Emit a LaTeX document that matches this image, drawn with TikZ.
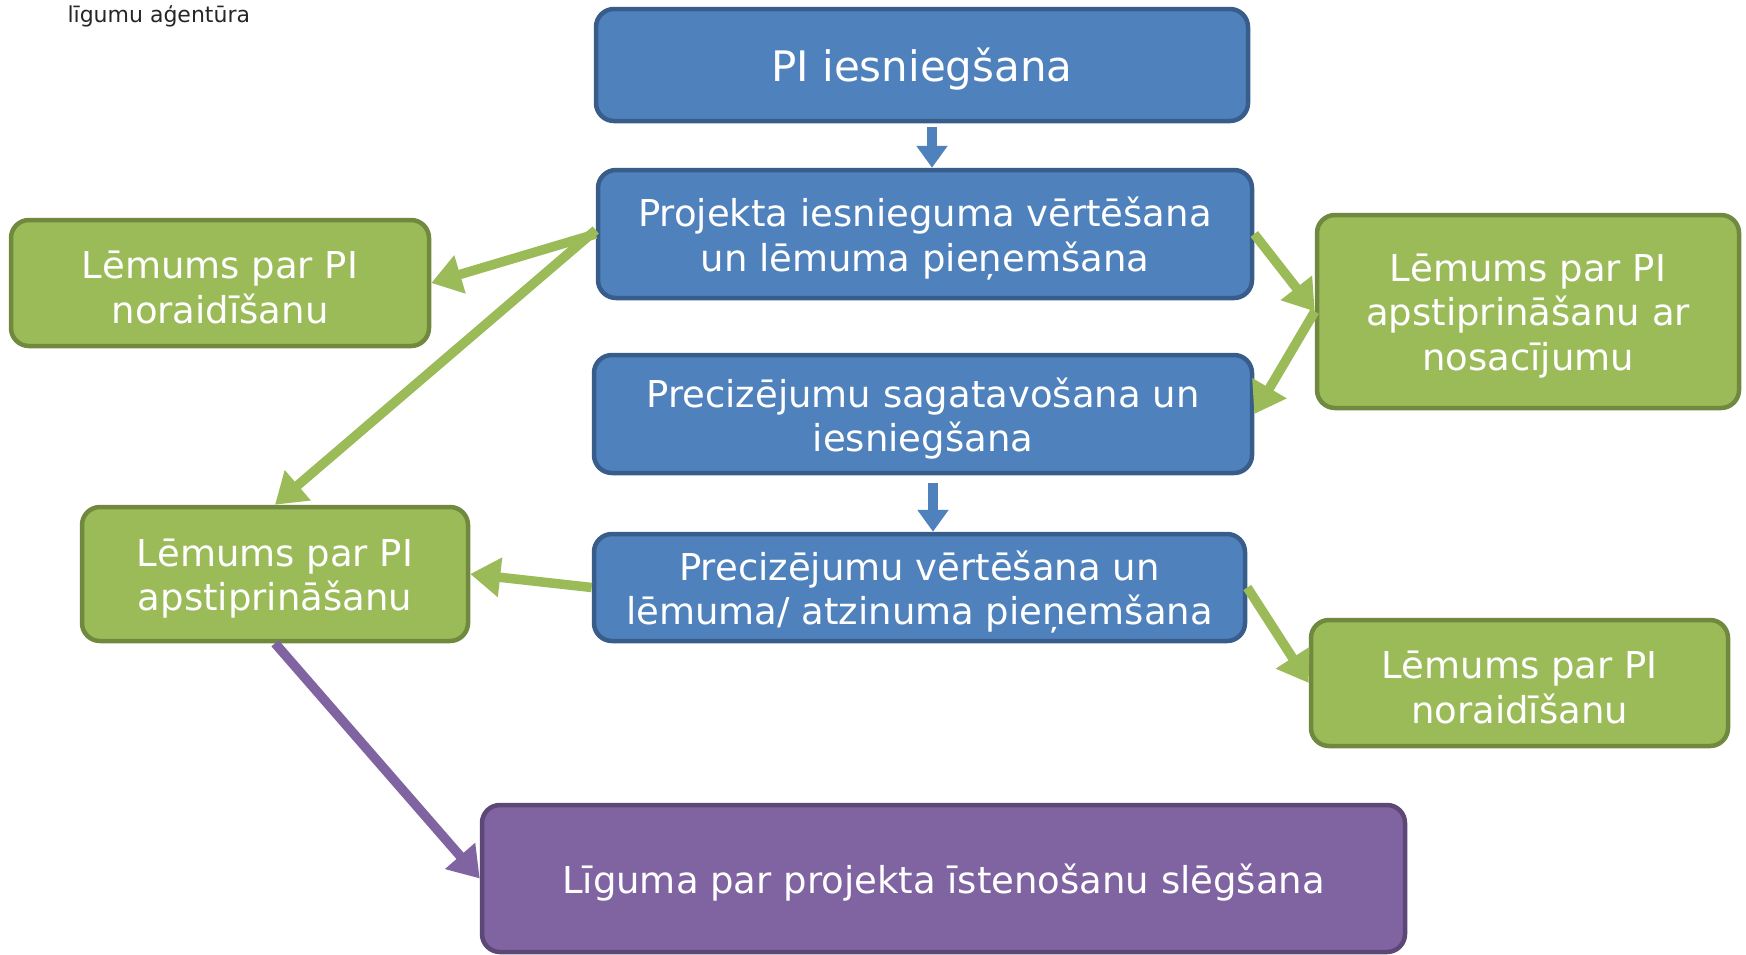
\documentclass[tikz,border=0pt]{standalone}
\usepackage{fontspec}
\setmainfont{DejaVu Sans}
\usetikzlibrary{arrows.meta}
\definecolor{bfill}{HTML}{4F81BD}
\definecolor{bline}{HTML}{385D8A}
\definecolor{gfill}{HTML}{9BBB59}
\definecolor{gline}{HTML}{71893F}
\definecolor{pfill}{HTML}{8064A2}
\definecolor{pline}{HTML}{5C4776}
\tikzset{
  box/.style={rounded corners=18pt, line width=4.5pt, inner sep=0pt},
  boxtext/.style={text=white, align=center, inner sep=0pt,
    font=\fontsize{37}{44.5}\selectfont, yshift=-4.5pt},
  bluebox/.style={box, fill=bfill, draw=bline},
  greenbox/.style={box, fill=gfill, draw=gline},
  purplebox/.style={box, fill=pfill, draw=pline},
  garrow/.style={draw=gfill, line width=9.5pt, -{Triangle[length=30pt,width=38pt]}},
  parrow/.style={draw=pfill, line width=9.5pt, -{Triangle[length=30pt,width=38pt]}},
  barrow/.style={draw=bfill, line width=10pt, -{Triangle[length=22pt,width=30pt]}},
}
\begin{document}
\begin{tikzpicture}[x=1pt,y=-1pt]
\path[use as bounding box] (0,0) rectangle (1746,954);
\node[anchor=base west, font=\fontsize{22}{26}\selectfont, text=black!85] (logo) at (64,22) {līgumu aģentūra};

\node[bluebox, minimum width=652pt, minimum height=112pt,
  label={[boxtext,font=\fontsize{42}{50}\selectfont]center:PI iesniegšana}] (b1) at (922,65) {};
\node[bluebox, minimum width=654pt, minimum height=128pt,
  label={[boxtext]center:Projekta iesnieguma vērtēšana\\un lēmuma pieņemšana}] (b2) at (925,234) {};
\node[bluebox, minimum width=658pt, minimum height=118pt,
  label={[boxtext]center:Precizējumu sagatavošana un\\iesniegšana}] (b3) at (923,414) {};
\node[bluebox, minimum width=651pt, minimum height=107pt,
  label={[boxtext]center:Precizējumu vērtēšana un\\lēmuma/ atzinuma pieņemšana}] (b4) at (919.5,587.5) {};

\node[greenbox, minimum width=418pt, minimum height=126pt,
  label={[boxtext]center:Lēmums par PI\\noraidīšanu}] (nl) at (220,283) {};
\node[greenbox, minimum width=422pt, minimum height=193pt,
  label={[boxtext]center:Lēmums par PI\\apstiprināšanu ar\\nosacījumu}] (rc) at (1528,311.5) {};
\node[greenbox, minimum width=386pt, minimum height=134pt,
  label={[boxtext]center:Lēmums par PI\\apstiprināšanu}] (al) at (275,574) {};
\node[greenbox, minimum width=417pt, minimum height=126pt,
  label={[boxtext]center:Lēmums par PI\\noraidīšanu}] (nr) at (1519.5,683) {};

\node[purplebox, minimum width=923pt, minimum height=147pt,
  label={[boxtext]center:Līguma par projekta īstenošanu slēgšana}] (pu) at (943.5,878.5) {};

\draw[barrow] ([xshift=10pt,yshift=-4pt]b1.south) -- ([xshift=10pt]b1.south |- b2.north);
\draw[barrow] ([xshift=10pt,yshift=-8pt]b3.south) -- ([xshift=10pt]b3.south |- b4.north);

\draw[garrow] (b2.west) -- (nl.east);
\draw[garrow] ([yshift=4pt]b2.west) -- (al.north);
\draw[garrow] (b2.east) -- (rc.west);
\draw[garrow] (rc.west) -- (b3.east);
\draw[garrow] (b4.west) -- (al.east);
\draw[garrow] (b4.east) -- (nr.west);
\draw[parrow] (al.south) -- (pu.west);
\end{tikzpicture}
\end{document}
